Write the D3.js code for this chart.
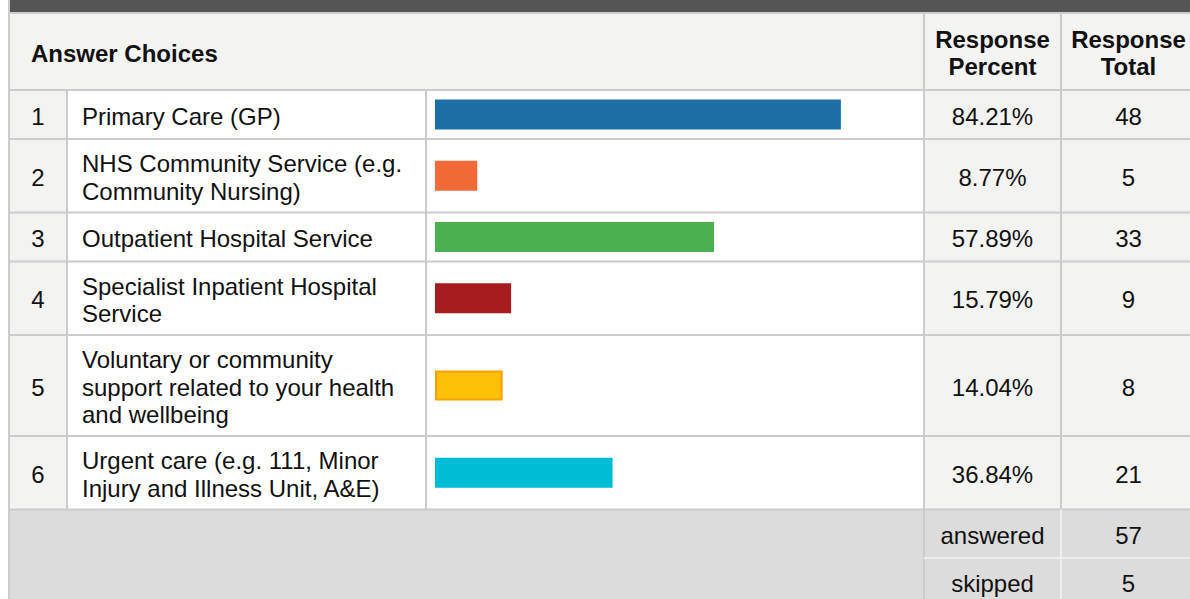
<!DOCTYPE html>
<html>
<head>
<meta charset="utf-8">
<script src="https://cdn.jsdelivr.net/npm/d3@7"></script>
<style>
  body { margin: 0; background: #fff; }
  svg { display: block; }
  text { font-family: "Liberation Sans", Arial, sans-serif; fill: #111; }
</style>
</head>
<body>
<svg id="chart"></svg>
<script>
// answer choices, wrapped the way the survey table shows them
var choices = [
  ["Primary Care (GP)"],
  ["NHS Community Service (e.g.", "Community Nursing)"],
  ["Outpatient Hospital Service"],
  ["Specialist Inpatient Hospital", "Service"],
  ["Voluntary or community", "support related to your health", "and wellbeing"],
  ["Urgent care (e.g. 111, Minor", "Injury and Illness Unit, A&E)"]
];
var percents = [84.21, 8.77, 57.89, 15.79, 14.04, 36.84];
var totals = [48, 5, 33, 9, 8, 21];
var summaryLabels = ["answered", "skipped"];
var summaryValues = [57, 5];

var barColors = ["#1c6fa4", "#f26a35", "#4caf50", "#a61c1f", "#ffc107", "#00bcd4"];
var barStrokes = [null, null, null, null, "#ffa000", null];

var width = 1190, height = 599;
var fontSize = 24;
var lineH = 27.5;
var cols = [9, 67, 426, 924, 1061, 1196];
var headTop = 13, headBottom = 90;
var grid = "#cccccc";
var dy = "0.42em";

var svg = d3.select("#chart").attr("width", width).attr("height", height);

// row geometry from number of text lines
var rowTops = [];
var y0 = headBottom;
choices.forEach(function(c) {
  rowTops.push(y0);
  y0 += Math.max(49, c.length * lineH + 18.5);
});
var bodyBottom = y0;
var rowBottoms = rowTops.slice(1).concat([bodyBottom]);

var x = d3.scaleLinear().domain([0, 100]).range([0, 482]);
var fmt = d3.format(".2f");

// dark band across the top
svg.append("rect").attr("x", cols[0]).attr("y", 0)
  .attr("width", width - cols[0]).attr("height", 12).attr("fill", "#555555");

// header
svg.append("rect").attr("x", cols[0]).attr("y", headTop)
  .attr("width", width - cols[0]).attr("height", headBottom - headTop).attr("fill", "#f3f3f2");

var headMid = (headTop + headBottom) / 2;
svg.append("text").attr("x", 31).attr("y", headMid).attr("dy", dy)
  .style("font-size", fontSize + "px").style("font-weight", "bold").text("Answer Choices");

[["Response", "Percent"], ["Response", "Total"]].forEach(function(lines, i) {
  var cx = (cols[3 + i] + cols[4 + i]) / 2;
  lines.forEach(function(t, j) {
    svg.append("text").attr("x", cx).attr("y", headMid + (j - 0.5) * 27)
      .attr("dy", dy).attr("text-anchor", "middle")
      .style("font-size", fontSize + "px").style("font-weight", "bold").text(t);
  });
});

// body rows
var row = svg.selectAll("g.row").data(choices).enter().append("g").attr("class", "row");

row.each(function(d, i) {
  var g = d3.select(this);
  var top = rowTops[i], bot = rowBottoms[i], mid = (top + bot) / 2;
  var fills = ["#f3f3f2", "#ffffff", "#ffffff", "#f3f3f2", "#f3f3f2"];
  fills.forEach(function(f, k) {
    g.append("rect").attr("x", cols[k]).attr("y", top)
      .attr("width", cols[k + 1] - cols[k]).attr("height", bot - top).attr("fill", f);
  });

  g.append("text").attr("x", (cols[0] + cols[1]) / 2).attr("y", mid).attr("dy", dy)
    .attr("text-anchor", "middle").style("font-size", fontSize + "px").text(i + 1);

  d.forEach(function(t, j) {
    g.append("text").attr("x", 82).attr("y", mid + (j - (d.length - 1) / 2) * lineH)
      .attr("dy", dy).style("font-size", fontSize + "px").text(t);
  });

  var bar = g.append("rect").attr("x", cols[2] + 9).attr("y", mid - 15)
    .attr("width", x(percents[i])).attr("height", 30).attr("fill", barColors[i]);
  if (barStrokes[i]) {
    bar.attr("x", cols[2] + 10).attr("y", mid - 14)
      .attr("width", x(percents[i]) - 2).attr("height", 28)
      .attr("stroke", barStrokes[i]).attr("stroke-width", 2);
  }

  g.append("text").attr("x", (cols[3] + cols[4]) / 2).attr("y", mid).attr("dy", dy)
    .attr("text-anchor", "middle").style("font-size", fontSize + "px").text(fmt(percents[i]) + "%");
  g.append("text").attr("x", (cols[4] + cols[5]) / 2).attr("y", mid).attr("dy", dy)
    .attr("text-anchor", "middle").style("font-size", fontSize + "px").text(totals[i]);
});

// footer summary
svg.append("rect").attr("x", cols[0]).attr("y", bodyBottom)
  .attr("width", width - cols[0]).attr("height", height - bodyBottom).attr("fill", "#dcdcdc");
var sumH = 48.5;
summaryLabels.forEach(function(t, i) {
  var mid = bodyBottom + sumH * i + sumH / 2;
  svg.append("text").attr("x", (cols[3] + cols[4]) / 2).attr("y", mid).attr("dy", dy)
    .attr("text-anchor", "middle").style("font-size", fontSize + "px").text(t);
  svg.append("text").attr("x", (cols[4] + cols[5]) / 2).attr("y", mid).attr("dy", dy)
    .attr("text-anchor", "middle").style("font-size", fontSize + "px").text(summaryValues[i]);
});

// grid lines
var lines = svg.append("g").attr("stroke-width", 2).attr("fill", "none");
[headTop, headBottom].concat(rowBottoms).forEach(function(yy) {
  lines.append("line").attr("x1", cols[0]).attr("x2", width).attr("y1", yy).attr("y2", yy).attr("stroke", grid);
});
lines.append("line").attr("x1", cols[0]).attr("x2", cols[0]).attr("y1", 0).attr("y2", height).attr("stroke", grid);
lines.append("line").attr("x1", cols[3]).attr("x2", cols[3]).attr("y1", headTop).attr("y2", height).attr("stroke", grid);
lines.append("line").attr("x1", cols[4]).attr("x2", cols[4]).attr("y1", headTop).attr("y2", bodyBottom).attr("stroke", grid);
[cols[1], cols[2]].forEach(function(xx) {
  lines.append("line").attr("x1", xx).attr("x2", xx).attr("y1", headBottom).attr("y2", bodyBottom).attr("stroke", grid);
});
lines.append("line").attr("x1", cols[4]).attr("x2", cols[4]).attr("y1", bodyBottom).attr("y2", height).attr("stroke", "#eeeeee");
lines.append("line").attr("x1", cols[3]).attr("x2", width).attr("y1", bodyBottom + sumH).attr("y2", bodyBottom + sumH).attr("stroke", "#eeeeee");
</script>
</body>
</html>
